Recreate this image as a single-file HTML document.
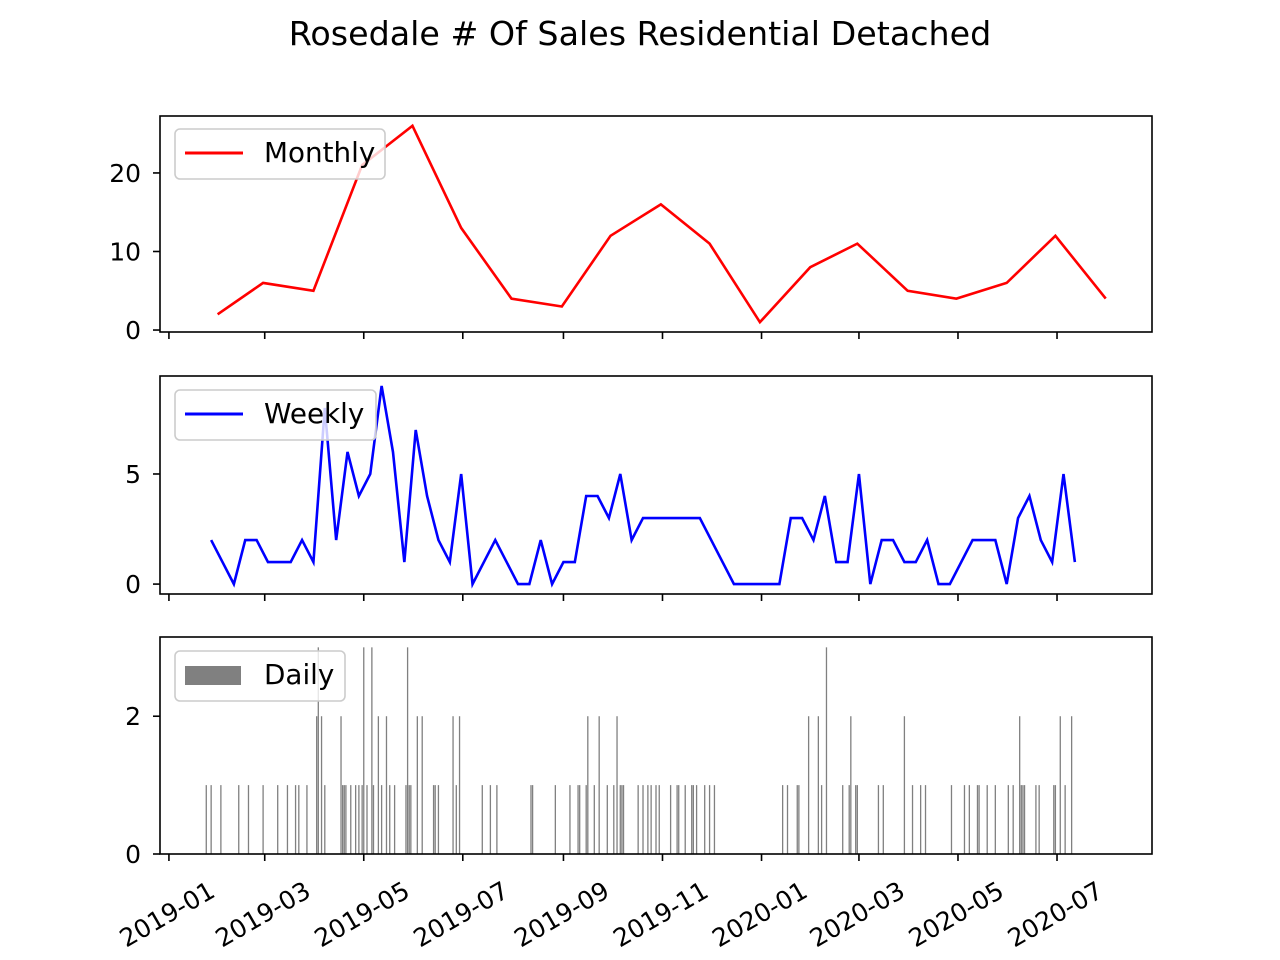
<!DOCTYPE html>
<html><head><meta charset="utf-8"><style>
body{margin:0;background:#fff}
svg{display:block;font-family:"DejaVu Sans","Liberation Sans",sans-serif}
</style></head><body>
<svg id="fig" width="1280" height="960">
<text x="640" y="45" text-anchor="middle" font-size="33.3">Rosedale # Of Sales Residential Detached</text>
</svg>
<script>
// ---- data ----
const monthlyDates=["2019-01-31","2019-02-28","2019-03-31","2019-04-30","2019-05-31","2019-06-30","2019-07-31","2019-08-31","2019-09-30","2019-10-31","2019-11-30","2019-12-31","2020-01-31","2020-02-29","2020-03-31","2020-04-30","2020-05-31","2020-06-30","2020-07-31"];
const monthlyValues=[2,6,5,21,26,13,4,3,12,16,11,1,8,11,5,4,6,12,4];
const weeklyStart="2019-01-27";
const weeklyValues=[2,1,0,2,2,1,1,1,2,1,8,2,6,4,5,9,6,1,7,4,2,1,5,0,1,2,1,0,0,2,0,1,1,4,4,3,5,2,3,3,3,3,3,3,2,1,0,0,0,0,0,3,3,2,4,1,1,5,0,2,2,1,1,2,0,0,1,2,2,2,0,3,4,2,1,5,1];
const dailyDayOffsets=[23,26,32,43,49,58,67,73,78,80,85,91,92,94,96,106,107,108,109,112,115,117,119,120,122,125,126,129,131,134,136,139,146,147,148,149,153,156,163,164,166,175,177,179,193,198,202,223,224,238,247,252,253,257,258,262,265,270,274,276,278,279,280,289,292,295,297,300,302,309,313,314,318,322,323,325,330,333,336,378,381,387,388,394,400,402,405,415,419,420,423,424,437,440,453,458,463,466,482,490,493,498,499,504,509,517,520,524,525,526,527,534,536,545,546,549,552,556];
const dailyValues=[1,1,1,1,1,1,1,1,1,1,1,2,3,2,1,2,1,1,1,1,1,1,1,3,1,3,1,2,1,2,1,1,1,3,1,1,2,2,1,1,1,2,1,2,1,1,1,1,1,1,1,1,1,1,2,1,2,1,1,2,1,1,1,1,1,1,1,1,1,1,1,1,1,1,1,1,1,1,1,1,1,1,1,2,2,1,3,1,1,2,1,1,1,1,2,1,1,1,1,1,1,1,1,1,1,1,1,2,1,1,1,1,1,1,1,2,1,2,1];
const xTickLabels=["2019-01","2019-03","2019-05","2019-07","2019-09","2019-11","2020-01","2020-03","2020-05","2020-07"];
const monthlyTicks=[0,10,20], weeklyTicks=[0,5], dailyTicks=[0,2];

const NS="http://www.w3.org/2000/svg", svg=document.getElementById('fig');
const T0=Date.UTC(2019,0,1);
function day(s){const p=s.split('-');return (Date.UTC(+p[0],+p[1]-1,+(p[2]||1))-T0)/864e5;}
const X0=160,X1=1152,D0=-5.5,D1=605.5;
const xs=d=>X0+(d-D0)/(D1-D0)*(X1-X0);
const FS=27.8, TFS=25;
function mk(tag,attrs,parent){const e=document.createElementNS(NS,tag);for(const k in attrs)e.setAttribute(k,attrs[k]);(parent||svg).appendChild(e);return e;}

function axes(top,bot,ymin,ymax,yticks,name,showX){
  const ys=v=>bot-(v-ymin)/(ymax-ymin)*(bot-top);
  const g=mk('g',{});
  
  
  yticks.forEach(v=>{
    const l=mk('line',{x1:X0-7,x2:X0,y1:ys(v),y2:ys(v),stroke:'#000','stroke-width':1.6},g);
    
    
    const t=mk('text',{x:X0-19,y:ys(v)+9,'text-anchor':'end','font-size':TFS},g);
    t.textContent=v;
    
    
  });
  xTickLabels.forEach(s=>{
    const x=xs(day(s+'-01'));
    const l=mk('line',{x1:x,x2:x,y1:bot,y2:bot+7,stroke:'#000','stroke-width':1.6},g);
    
    
    if(showX){
      const ax=x-2, ay=bot+60;
      const t=mk('text',{x:ax,y:ay+9,'text-anchor':'middle','font-size':TFS,transform:`rotate(-30 ${ax} ${ay})`},g);
      t.textContent=s;
      
      
    }
  });
  return {g,ys};
}
function frame(top,bot,name){
  const r=mk('rect',{x:X0,y:top,width:X1-X0,height:bot-top,fill:'none',stroke:'#000','stroke-width':1.6});
  
  
}
function legend(x,y,w,label,kind,color,name){
  const g=mk('g',{});
  
  
  mk('rect',{x:x,y:y,width:w,height:50,rx:5,fill:'rgba(255,255,255,0.8)',stroke:'#ccc','stroke-width':1.6},g);
  if(kind==='line') mk('line',{x1:x+10,x2:x+68,y1:y+24,y2:y+24,stroke:color,'stroke-width':3},g);
  else mk('rect',{x:x+10,y:y+15,width:56,height:19,fill:color},g);
  const t=mk('text',{x:x+89,y:y+33,'font-size':FS},g);t.textContent=label;
}

// Monthly
let a=axes(116,332,-0.25,27.25,monthlyTicks,'monthly',false);
let pts=monthlyDates.map((d,i)=>xs(day(d))+','+a.ys(monthlyValues[i])).join(' ');
let pl=mk('polyline',{points:pts,fill:'none',stroke:'#f00','stroke-width':2.6});


frame(116,332,'monthly');
legend(175,129,210,'Monthly','line','#f00','monthly');

// Weekly
a=axes(376,594,-0.45,9.45,weeklyTicks,'weekly',false);
const ws=day(weeklyStart);
pts=weeklyValues.map((v,i)=>xs(ws+7*i)+','+a.ys(v)).join(' ');
pl=mk('polyline',{points:pts,fill:'none',stroke:'#00f','stroke-width':2.6});


frame(376,594,'weekly');
legend(175,390,201,'Weekly','line','#00f','weekly');

// Daily
a=axes(637,854,0,3.15,dailyTicks,'daily',true);
const bw=0.8*(X1-X0)/(D1-D0);
dailyDayOffsets.forEach((d,i)=>{
  const y=a.ys(dailyValues[i]);
  const b=mk('rect',{x:xs(d)-bw/2,y:y,width:bw,height:a.ys(0)-y,fill:'#808080'});
  
  
});
frame(637,854,'daily');
legend(175,651,170,'Daily','bar','#808080','daily');
</script>
</body></html>
